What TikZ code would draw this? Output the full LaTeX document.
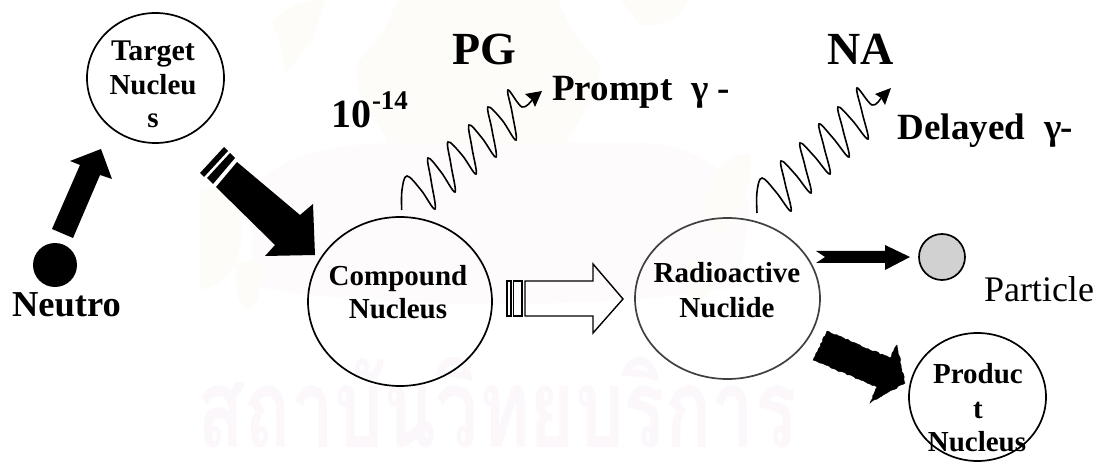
\documentclass[tikz,border=0pt]{standalone}
\usepackage{fontspec}
\setmainfont{Liberation Serif}
\newfontfamily\thaifont[Script=Thai,FakeStretch=0.70]{Loma}
\usetikzlibrary{shapes.geometric,arrows.meta,decorations.pathmorphing,calc}
\definecolor{wm}{HTML}{FBF7FA}
\definecolor{crest}{HTML}{FDFCF9}
\definecolor{dome}{HTML}{FEFBFC}
\newcommand{\fs}[1]{\fontsize{#1}{#1}\selectfont}
\tikzset{
  ring/.style={draw=black,line width=1.7pt,ellipse,inner sep=0pt,outer sep=0pt},
  lbl/.style={inner sep=0pt,outer sep=0pt,anchor=base,font=\bfseries\fs{#1}},
  plain/.style={inner sep=0pt,outer sep=0pt,anchor=base west},
  solidarrow/.style={fill=black,draw=none},
  wave/.style={draw=black,line width=1.6pt},
}
\begin{document}
\begin{tikzpicture}[x=1pt,y=-1pt]
\useasboundingbox (0,0) rectangle (1101,462);
% watermark
\fill[dome] (255,185) .. controls (285,155) and (330,143) .. (400,143) -- (640,143) .. controls (690,143) and (730,170) .. (750,205) -- (740,285) .. controls (650,310) and (350,310) .. (250,285) -- cycle;
\fill[crest] (398,0) -- (558,0) -- (572,30) -- (600,65) -- (598,90) -- (565,145) -- (390,145) -- (358,90) -- (356,65) -- (384,30) -- cycle;
\fill[crest] (272,22) .. controls (285,8) and (300,0) .. (326,0) -- (312,40) -- (285,75) -- (281,45) -- cycle;
\fill[crest] (621,0) -- (688,0) .. controls (680,18) and (670,22) .. (655,25) -- (640,25) -- cycle;
\fill[crest] (200,190) .. controls (225,180) and (245,200) .. (242,235) .. controls (240,265) and (225,285) .. (200,290) -- cycle;
\fill[crest] (703,205) .. controls (710,170) and (730,150) .. (751,155) .. controls (752,190) and (740,225) .. (715,235) -- cycle;
\fill[crest] (234,262) -- (263,262) -- (258,300) -- (248,310) -- (238,300) -- cycle;
\fill[crest] (684,260) -- (713,260) -- (708,295) -- (698,302) -- (688,295) -- cycle;
\node[inner sep=0pt,anchor=base,text=wm,font=\thaifont\bfseries\fs{110}] (wmark) at (497,447) {สถาบันวิทยบริการ};
% circles
\node[ring,minimum width=137pt,minimum height=130pt] (target) at (155.5,78) {};
\node[ring,minimum width=184pt,minimum height=169pt] (comp) at (400,301.5) {};
\node[ring,draw=black!75,minimum width=185pt,minimum height=161pt] (radio) at (727.5,298.5) {};
\node[ring,minimum width=137pt,minimum height=128pt] (prod) at (977.5,397) {};
\node[circle,fill=black,minimum size=44pt,inner sep=0pt] (neutron) at (55,265) {};
\node[circle,draw=black,line width=1.7pt,fill=black!18,minimum size=46pt,inner sep=0pt] (particle) at (942,257) {};
% texts
\node[lbl=30] (t1) at (153,61) {Target};
\node[lbl=29] (t2) at (153,95) {Nucleu};
\node[lbl=29] (t3) at (153,128) {s};
\node[lbl=36.5] (neu) at (66.5,317) {Neutro};
\node[lbl=46] (pg) at (484,65) {PG};
\node[lbl=46] (na) at (861,65) {NA};
\node[lbl=40] (ten) at (351,128) {10};
\node[lbl=27] (exp) at (390,110) {-14};
\node[lbl=37] (pr) at (612.5,100.5) {Prompt};
\node[lbl=37] (pg1) at (700,100.5) {γ};
\node[lbl=37] (pm) at (724,100.5) {-};
\node[lbl=37] (de) at (961.5,140) {Delayed};
\node[lbl=37] (dg) at (1053,140) {γ};
\node[lbl=37] (dm) at (1067,140) {-};
\node[lbl=29] (c1) at (398,286) {Compound};
\node[lbl=29] (c2) at (398,319) {Nucleus};
\node[lbl=29] (r1) at (727,283) {Radioactive};
\node[lbl=29] (r2) at (727,318) {Nuclide};
\node[lbl=29] (p1) at (978,384) {Produc};
\node[lbl=29] (p2) at (978,418) {t};
\node[lbl=29] (p3) at (977,451) {Nucleus};
\node[plain,font=\fs{36}] (ptxt) at (984,302) {Particle};
% block arrows
\fill[solidarrow] (52,229) -- (73,238) -- (100,175) -- (112,179) -- (101,149) -- (70,161) -- (80,165) -- cycle;
\fill[solidarrow] (224,147) -- (228,151) -- (204,177) -- (200,173) -- cycle;
\fill[solidarrow] (230,153) -- (235,158) -- (213,184) -- (207,178) -- cycle;
\fill[solidarrow] (237,162) -- (300,215) -- (313,204) -- (315,255) -- (265,256) -- (275,245) -- (216,187) -- cycle;
\begin{scope}[draw=black,line width=1.4pt,fill=white]
\draw (507,281) rectangle (511,316);
\draw (513.5,281) rectangle (522,316);
\draw (525,281) -- (593,281) -- (593,264) -- (623,299) -- (593,333) -- (593,316) -- (525,316) -- cycle;
\end{scope}
\fill[solidarrow] (816,251) -- (885,251) -- (885,245) -- (910,257) -- (885,270) -- (885,263) -- (816,263) -- (825,257) -- cycle;
\fill[solidarrow,draw=black,decorate,decoration={random steps,segment length=2.5pt,amplitude=.7pt}]
  (827,331) -- (890,358) -- (897,345) -- (905,383) -- (870,403) -- (877,387) -- (813,360) -- cycle;
% waves
\coordinate (w1s) at (401.7,210);
\coordinate (w1e) at (542,91);
\coordinate (w2s) at (757,213);
\coordinate (w2e) at (891,88);
\draw[wave] plot[smooth,tension=.62] coordinates {(w1s) (402,190) (407,176) (421,190) (435,209) (431,180) (428,158) (441,172) (455,192) (451,165) (448,142) (462,155) (476,174) (472,148) (469,125) (482,138) (496,157) (492,130) (488,107) (502,120) (516,140) (512,112) (508,90) (522,107) (532,100)};
\fill[solidarrow] (w1e) -- (525,94) -- (532,100) -- (535,107) -- cycle;
\draw[wave] plot[smooth,tension=.62] coordinates {(w2s) (757,192) (762,178) (776,192) (791,211) (785,183) (781,161) (795,174) (811,193) (805,166) (800,143) (814,156) (830,174) (824,147) (819,124) (833,138) (849,157) (843,130) (838,107) (852,120) (868,139) (862,112) (857,88) (872,105) (881,98)};
\fill[solidarrow] (w2e) -- (875,94) -- (881,98) -- (885,105) -- cycle;
\end{tikzpicture}
\end{document}
